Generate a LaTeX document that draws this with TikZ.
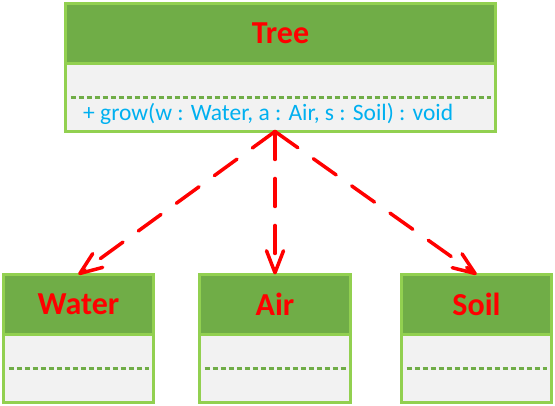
\documentclass[tikz,border=0pt]{standalone}
\usepackage{fontspec}
\setmainfont{Carlito}
\usetikzlibrary{positioning,arrows.meta}

\definecolor{hdgreen}{HTML}{70AD47}
\definecolor{edgegreen}{HTML}{92D050}
\definecolor{bdgray}{HTML}{F2F2F2}
\definecolor{opblue}{HTML}{00B0F0}

\tikzstyle{hd} = [rectangle, draw=edgegreen, fill=hdgreen, line width=3.5pt, outer sep=0pt, inner sep=0pt, minimum height=60pt, text=red, font=\fontsize{32}{38}\selectfont\bfseries]
\tikzstyle{bd} = [rectangle, draw=edgegreen, fill=bdgray, line width=3.5pt, outer sep=0pt, inner sep=0pt, minimum height=68pt]
\tikzstyle{dashsep} = [draw=hdgreen, line width=2.5pt, dash pattern=on 5pt off 3pt]
\tikzstyle{usearrow} = [draw=red, line width=3.5pt, line cap=round, dash pattern=on 28pt off 19pt, -{Straight Barb[round,length=22pt,width=17pt]}]

\begin{document}
\begin{tikzpicture}[x=1pt, y=1pt]
    \useasboundingbox (0,0) rectangle (555,406);

    \node[hd, minimum width=430pt] (tree) at (280.5,372.5) {Tree};
    \node[bd, minimum width=430pt, below=0pt of tree] (treebody) {};
    \draw[dashsep] ([xshift=5pt]treebody.west) -- ([xshift=-5pt]treebody.east);
    \node[anchor=base west, inner sep=0pt, text=opblue, font=\fontsize{23.5}{28}\selectfont]
      (treeop) at (83,285) {+ grow(w : Water, a : Air, s : Soil) : void};

    \node[hd, minimum width=150pt] (water) at (78.5,101.5) {Water};
    \node[bd, minimum width=150pt, below=0pt of water] (waterbody) {};
    \draw[dashsep] ([xshift=5pt]waterbody.west) -- ([xshift=-5pt]waterbody.east);

    \node[hd, minimum width=151pt] (air) at (275,101.5) {Air};
    \node[bd, minimum width=151pt, below=0pt of air] (airbody) {};
    \draw[dashsep] ([xshift=5pt]airbody.west) -- ([xshift=-5pt]airbody.east);

    \node[hd, minimum width=150pt] (soil) at (476.5,101.5) {Soil};
    \node[bd, minimum width=150pt, below=0pt of soil] (soilbody) {};
    \draw[dashsep] ([xshift=5pt]soilbody.west) -- ([xshift=-5pt]soilbody.east);

    \coordinate (apex) at (air.north |- treebody.south);
    \draw[usearrow] (apex) -- (water.north);
    \draw[usearrow] (apex) -- (air.north);
    \draw[usearrow] (apex) -- (soil.north);
  \end{tikzpicture}
\end{document}
